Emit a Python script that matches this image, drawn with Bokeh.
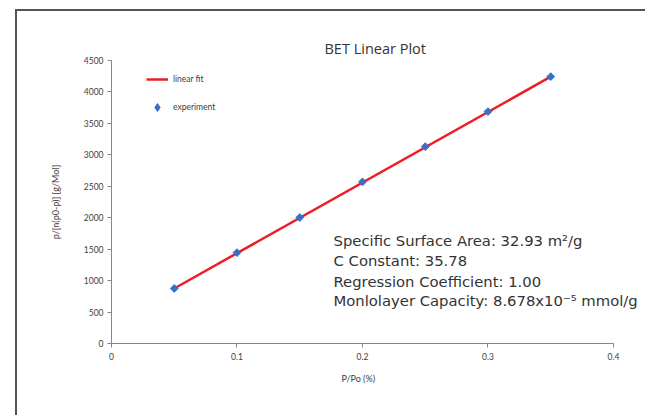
import math
from bokeh.plotting import figure
from bokeh.models import Label, Legend, LegendItem, Range1d, FixedTicker
from bokeh.embed import file_html
from bokeh.resources import INLINE

# data
x_exp = [0.05, 0.10, 0.15, 0.20, 0.25, 0.30, 0.35]
y_exp = [875, 1445, 2003, 2570, 3130, 3688, 4243]
x_fit = [0.05, 0.35]
y_fit = [875, 4243]
x_ticks = [0, 0.1, 0.2, 0.3, 0.4]
y_ticks = [0, 500, 1000, 1500, 2000, 2500, 3000, 3500, 4000, 4500]
title_text = "BET Linear Plot"
x_label = "P/Po (%)"
y_label = "p/[n(p0-p)] [g/Mol]"
info_lines = [
    "Specific Surface Area: 32.93 m\u00b2/g",
    "C Constant: 35.78",
    "Regression Coefficient: 1.00",
    "Monlolayer Capacity: 8.678x10\u207b\u2075 mmol/g",
]
info_y = [1640, 1322, 990, 688]

p = figure(width=630, height=406, output_backend="svg", toolbar_location=None,
           x_range=Range1d(0, 0.4255), y_range=Range1d(0, 4500),
           min_border_left=94, min_border_right=2, min_border_top=49, min_border_bottom=74,
           title=title_text)
p.styles = {"margin-left": "15px", "margin-top": "9px",
            "border-left": "2px solid #555555", "border-top": "2px solid #555555"}
p.title.align = "left"
p.title.offset = 213
p.title.standoff = 6
p.title.text_font = "Open Sans"
p.title.text_font_size = "14.5px"
p.title.text_font_style = "normal"
p.title.text_color = "#333333"

p.grid.visible = False
p.outline_line_color = None

for ax in (p.xaxis, p.yaxis):
    ax.axis_line_color = "#868686"
    ax.major_tick_line_color = "#868686"
    ax.minor_tick_line_color = None
    ax.major_tick_in = 0
    ax.major_tick_out = 4
    ax.major_label_text_font = "Lato"
    ax.major_label_text_font_size = "8.5px"
    ax.major_label_text_color = "#404040"
    ax.axis_label_text_font = "Lato"
    ax.axis_label_text_font_size = "9px"
    ax.axis_label_text_font_style = "normal"
    ax.axis_label_text_color = "#404040"

p.xaxis.ticker = FixedTicker(ticks=x_ticks)
p.xaxis.bounds = (0, 0.4)
p.yaxis.ticker = FixedTicker(ticks=y_ticks)
# the frame is widened for the text block; pad so the label stays centred under 0-0.4
p.xaxis.axis_label = x_label + "\u2003" * 6
p.yaxis.axis_label = y_label
p.xaxis.major_label_standoff = 5
p.xaxis.axis_label_standoff = 10
p.yaxis.major_label_standoff = 4
p.yaxis.axis_label_standoff = 20

r_line = p.line(x_fit, y_fit, line_color="#ee1c25", line_width=2.5)
# legend proxy: diamond hidden under the first experimental marker
r_leg = p.scatter(x_exp[:1], y_exp[:1], marker="diamond", size=6.5,
                  fill_color="#3a70c4", line_color="#3a70c4")
r_pts = p.scatter(x_exp, y_exp, marker="square", angle=math.pi / 4, size=5.5,
                  fill_color="#3a70c4", line_color="#3a70c4")

legend = Legend(items=[LegendItem(label="linear fit", renderers=[r_line]),
                       LegendItem(label="experiment", renderers=[r_leg])],
                location=(35, 226))
legend.border_line_color = None
legend.background_fill_alpha = 0
legend.padding = 5
legend.margin = 0
legend.spacing = 8
legend.glyph_height = 20
legend.glyph_width = 22
legend.label_height = 20
legend.label_standoff = 5
legend.label_text_font = "Lato"
legend.label_text_font_size = "8.5px"
legend.label_text_color = "#404040"
p.add_layout(legend)

for t, yv in zip(info_lines, info_y):
    p.add_layout(Label(x=0.1769, y=yv, text=t, text_font="DejaVu Sans", text_font_size="14.8px",
                       text_color="#333333", text_baseline="middle"))

open("out.html", "w").write(file_html(p, INLINE))
